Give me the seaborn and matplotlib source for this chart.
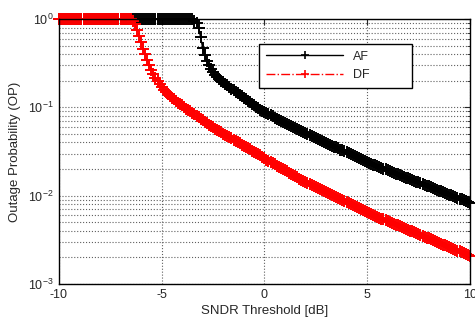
import matplotlib
matplotlib.use('Agg')
import matplotlib.pyplot as plt
import numpy as np
import pandas as pd
import seaborn as sns

# SNDR threshold grid (dB), 0.1 dB step
snr_db = np.round(np.arange(-10, 10.001, 0.1), 1)

# outage probability (AF flat at 1 up to -3.5 dB)
op_af = [1.0] * 66 + [
    # -3.4 .. -2.3
    0.955, 0.89, 0.79, 0.62, 0.47, 0.39, 0.335, 0.302, 0.275, 0.254, 0.234, 0.219,
    # -2.2 .. -1.2
    0.209, 0.201, 0.193, 0.185, 0.177, 0.170, 0.163, 0.156, 0.150, 0.144, 0.138,
    # -1.1 .. 0
    0.133, 0.128, 0.123, 0.119, 0.114, 0.110, 0.106, 0.102, 0.0982, 0.0944, 0.0910, 0.0879,
    # 0.1 .. 5.0
    0.0855, 0.0832, 0.0811, 0.0789, 0.0767, 0.0746, 0.0726, 0.0708, 0.0689, 0.0670,
    0.0652, 0.0634, 0.0618, 0.0601, 0.0585, 0.0569, 0.0553, 0.0540, 0.0526, 0.0513,
    0.0500, 0.0488, 0.0475, 0.0463, 0.0452, 0.0441, 0.0430, 0.0419, 0.0408, 0.0398,
    0.0388, 0.0378, 0.0369, 0.0360, 0.0351, 0.0342, 0.0333, 0.0325, 0.0317, 0.0309,
    0.0301, 0.0294, 0.0286, 0.0279, 0.0272, 0.0265, 0.0259, 0.0252, 0.0246, 0.0240,
    # 5.1 .. 10.0
    0.0235, 0.0230, 0.0225, 0.0220, 0.0216, 0.0211, 0.0207, 0.0202, 0.0198, 0.0194,
    0.0190, 0.0186, 0.0182, 0.0178, 0.0175, 0.0171, 0.0167, 0.0164, 0.0160, 0.0157,
    0.0154, 0.0151, 0.0147, 0.0144, 0.0141, 0.0138, 0.0135, 0.0132, 0.0130, 0.0127,
    0.0124, 0.0122, 0.0119, 0.0117, 0.0114, 0.0112, 0.0110, 0.0107, 0.0105, 0.0103,
    0.0101, 0.0099, 0.0096, 0.0094, 0.0092, 0.0091, 0.0089, 0.0087, 0.0085, 0.0083,
]

# DF flat at 1 up to -6.5 dB
op_df = [1.0] * 36 + [
    # -6.4 .. -3.7
    0.955, 0.87, 0.76, 0.645, 0.55, 0.457, 0.398, 0.343, 0.299, 0.266, 0.240, 0.216,
    0.197, 0.182, 0.170, 0.158, 0.149, 0.141, 0.134, 0.129, 0.123, 0.118, 0.113, 0.109,
    0.105, 0.101, 0.0970, 0.0938,
    # -3.6 .. -2.6
    0.0902, 0.0867, 0.0836, 0.0804, 0.0773, 0.0745, 0.0716, 0.0689, 0.0664, 0.0638, 0.0614,
    # -2.5 .. -1.5
    0.0592, 0.0573, 0.0555, 0.0537, 0.0521, 0.0505, 0.0489, 0.0474, 0.0459, 0.0445, 0.0431,
    # -1.4 .. 0
    0.0417, 0.0404, 0.0391, 0.0379, 0.0367, 0.0356, 0.0344, 0.0334, 0.0324, 0.0313,
    0.0303, 0.0294, 0.0285, 0.0276, 0.0265,
    # 0.1 .. 1.7
    0.0255, 0.0248, 0.0240, 0.0233, 0.0226, 0.0219, 0.0212, 0.0206, 0.0200, 0.0194,
    0.0188, 0.0182, 0.0177, 0.0171, 0.0166, 0.0161, 0.0156,
    # 1.8 .. 5.0
    0.0152, 0.0148, 0.0144, 0.0140, 0.0137, 0.0133, 0.0129, 0.0126, 0.0123, 0.0120,
    0.0116, 0.0113, 0.0110, 0.0107, 0.0105, 0.0102, 0.00991, 0.00966, 0.00940, 0.00916,
    0.00891, 0.00867, 0.00845, 0.00822, 0.00802, 0.00780, 0.00759, 0.00740, 0.00719, 0.00701,
    0.00682, 0.00664, 0.00646,
    # 5.1 .. 10.0
    0.00631, 0.00617, 0.00604, 0.00590, 0.00577, 0.00564, 0.00551, 0.00540, 0.00527, 0.00515,
    0.00504, 0.00492, 0.00482, 0.00471, 0.00460, 0.00450, 0.00440, 0.00431, 0.00421, 0.00411,
    0.00402, 0.00393, 0.00385, 0.00376, 0.00367, 0.00359, 0.00351, 0.00344, 0.00336, 0.00328,
    0.00321, 0.00313, 0.00307, 0.00300, 0.00293, 0.00286, 0.00280, 0.00274, 0.00268, 0.00262,
    0.00256, 0.00250, 0.00245, 0.00239, 0.00234, 0.00229, 0.00223, 0.00219, 0.00214, 0.00209,
]

sns.set_style('white')
plt.rcParams['font.family'] = ['Liberation Sans', 'DejaVu Sans']
plt.rcParams['mathtext.default'] = 'regular'
plt.rcParams['axes.unicode_minus'] = False
plt.rcParams['font.size'] = 9

fig = plt.figure(figsize=(4.75, 3.22), dpi=100)
ax = fig.add_axes([0.124, 0.118, 0.865, 0.823])

sns.lineplot(x=snr_db, y=op_af, ax=ax, color='black', linestyle='-', linewidth=1,
             marker='+', markersize=8, markeredgewidth=1.4, markeredgecolor='black',
             label='AF', clip_on=False)
sns.lineplot(x=snr_db, y=op_df, ax=ax, color='red', linestyle='-.', linewidth=1,
             marker='+', markersize=8, markeredgewidth=1.4, markeredgecolor='red',
             label='DF', clip_on=False)

ax.set_yscale('log')
ax.set_xlim(-10, 10)
ax.set_ylim(1e-3, 1)
ax.set_xticks([-10, -5, 0, 5, 10])
ax.set_xlabel('SNDR Threshold [dB]', fontsize=9.5, labelpad=3)
ax.set_ylabel('Outage Probability (OP)', fontsize=9.5, labelpad=5)

ax.grid(True, which='major', axis='both', color='#606060', linestyle=':', linewidth=0.8)
ax.grid(True, which='minor', axis='y', color='#606060', linestyle=':', linewidth=0.8)
ax.tick_params(which='both', direction='in', top=True, right=True, labelsize=9)
ax.tick_params(which='major', length=4)
ax.tick_params(which='minor', length=2)
for s in ax.spines.values():
    s.set_color('black')
    s.set_linewidth(1)
    s.set_zorder(3)

leg = ax.legend(loc='upper left', bbox_to_anchor=(0.487, 0.743, 0.372, 0.163),
                mode='expand', borderaxespad=0, handlelength=6.2,
                numpoints=1, fancybox=False, framealpha=1, edgecolor='black',
                fontsize=9, borderpad=0.55, labelspacing=0.5)
leg.get_frame().set_linewidth(1)
for h in leg.legend_handles:
    h.set_markersize(6)
    h.set_markeredgewidth(1.2)

fig.savefig('out.png', dpi=100)
